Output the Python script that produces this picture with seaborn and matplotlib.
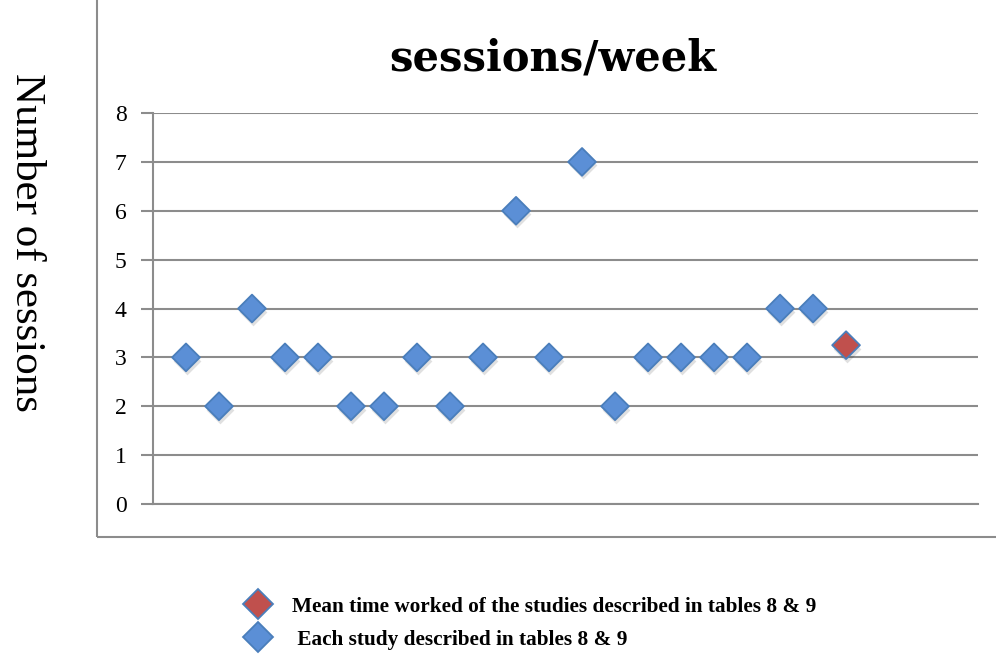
import seaborn as sns
import matplotlib.pyplot as plt
import pandas as pd
from matplotlib.patches import Rectangle

# values
study_no = list(range(1, 21))
sessions = [3, 2, 4, 3, 3, 2, 2, 3, 2, 3, 6, 3, 7, 2, 3, 3, 3, 3, 4, 4]
mean_x = [21]
mean_sessions = [3.25]

lab_mean = "Mean time worked of the studies described in tables 8 & 9"
lab_each = " Each study described in tables 8 & 9"

df = pd.DataFrame({
    "study": study_no + mean_x,
    "sessions": sessions + mean_sessions,
    "kind": [lab_each] * len(study_no) + [lab_mean] * len(mean_x),
})

sns.set_style("white")
plt.rcParams["font.family"] = ["Liberation Serif", "DejaVu Serif"]
plt.rcParams["text.color"] = "black"
plt.rcParams["ytick.color"] = "black"

fig = plt.figure(figsize=(9.96, 6.56), dpi=100)
ax = fig.add_axes([0.1536, 0.2317, 0.8284, 0.596])

grid_col = "#8c8c8c"
palette = {lab_mean: "#c0504d", lab_each: "#5b8fd6"}

# soft drop shadow under the markers
ax.scatter(df["study"] + 0.04, df["sessions"] - 0.07, marker="D", s=200,
           color="#000000", alpha=0.12, linewidths=0, zorder=2)

sns.scatterplot(
    data=df, x="study", y="sessions", hue="kind",
    hue_order=[lab_mean, lab_each], palette=palette,
    marker="D", s=200, edgecolor="#4a7ebb", linewidth=1.3,
    ax=ax, zorder=3, legend=True,
)

ax.set_xlim(0, 25)
ax.set_ylim(0, 8)
ax.set_yticks(range(0, 9))
ax.set_xticks([])
ax.set_xlabel("")
ax.set_ylabel("")
ax.yaxis.grid(True, color=grid_col, linewidth=1.5)
ax.set_axisbelow(True)
for s in ["top", "right"]:
    ax.spines[s].set_visible(False)
ax.spines["left"].set_color(grid_col)
ax.spines["left"].set_linewidth(1.5)
ax.spines["bottom"].set_color(grid_col)
ax.spines["bottom"].set_linewidth(1.5)
ax.tick_params(axis="y", left=True, direction="out", length=9, width=1.5,
               color=grid_col, labelcolor="black", labelsize=17, pad=10)

# chart border
fig.patches.append(Rectangle((0.0974, 0.1814), 1.0, 0.83, transform=fig.transFigure,
                             fill=False, edgecolor=grid_col, linewidth=1.5))

fig.text(0.555, 0.911, "sessions/week", ha="center", va="center",
         fontsize=30, fontweight="bold", family="DejaVu Serif", color="black")
fig.text(0.026, 0.631, "Number of sessions", rotation=-90, ha="center", va="center",
         fontsize=31, color="black")

handles, labels = ax.get_legend_handles_labels()
ax.get_legend().remove()
fig.legend(handles, labels, loc="center left", bbox_to_anchor=(0.218, 0.05),
           frameon=False, prop={"weight": "bold", "size": 15.3},
           labelspacing=0.6, handletextpad=0.6, markerscale=1.05)

fig.savefig("out.png", dpi=100)
